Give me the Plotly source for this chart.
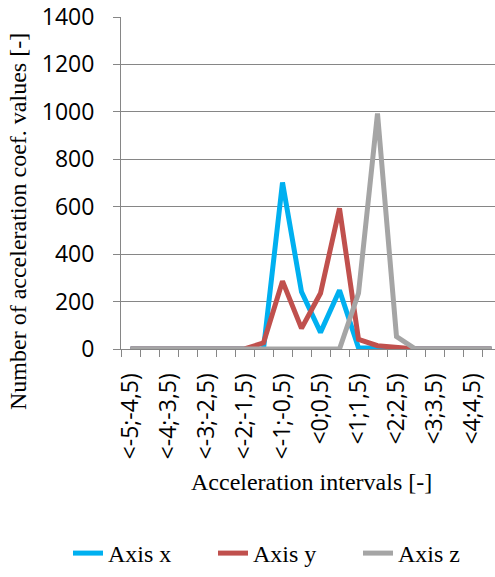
import plotly.graph_objects as go

categories = ["<-5;-4,5)", "<-4,5;-4)", "<-4;-3,5)", "<-3,5;-3)", "<-3;-2,5)", "<-2,5;-2)",
              "<-2;-1,5)", "<-1,5;-1)", "<-1;-0,5)", "<-0,5;0)", "<0;0,5)", "<0,5;1)",
              "<1;1,5)", "<1,5;2)", "<2;2,5)", "<2,5;3)", "<3;3,5)", "<3,5;4)", "<4;4,5)", "<4,5;5)"]
axis_x = [0, 0, 0, 0, 0, 0, 0, 0, 702, 241, 70, 248, 5, 2, 0, 0, 0, 0, 0, 0]
axis_y = [0, 0, 0, 0, 0, 0, 0, 26, 286, 87, 235, 593, 41, 14, 6, 0, 0, 0, 0, 0]
axis_z = [0, 0, 0, 0, 0, 0, 0, 0, 0, 0, 0, 0, 235, 993, 52, 0, 0, 0, 0, 0]
series_names = ["Axis x", "Axis y", "Axis z"]
colors = ["#00B0F0", "#C0504D", "#A5A5A5"]

idx = list(range(len(categories)))
W, H = 495, 577
L, T, B = 121, 17, 228
plot_w = W - L
plot_h = H - T - B
step = 19.0
xmax = -0.5 + plot_w / step

fig = go.Figure()
for name, vals, c in zip(series_names, [axis_x, axis_y, axis_z], colors):
    fig.add_trace(go.Scatter(x=idx, y=vals, mode="lines", name=name,
                             line=dict(color=c, width=5)))

def px_x(p):
    return (p - L) / plot_w

def px_y(p):
    return (H - B - p) / plot_h

fig.update_layout(
    width=W, height=H,
    margin=dict(l=L, r=0, t=T, b=B, autoexpand=False),
    paper_bgcolor="white", plot_bgcolor="white",
    showlegend=True,
    legend=dict(orientation="h", x=px_x(68), xanchor="left", y=px_y(576), yanchor="bottom",
                font=dict(family="Liberation Serif", size=24, color="black"),
                entrywidth=100, entrywidthmode="pixels", tracegroupgap=0),
    xaxis=dict(range=[-0.5, xmax], tickmode="array", tickvals=idx[::2], ticktext=categories[::2],
               tickangle=-90, ticks="", ticklabelstandoff=14, showgrid=False, automargin=False,
               showline=True, linecolor="#868686", linewidth=1, layer="below traces",
               zeroline=False,
               tickfont=dict(family="Open Sans", size=23, color="black"),
               minor=dict(tickmode="array", tickvals=[i - 0.5 for i in idx], ticks="outside",
                          ticklen=7, tickcolor="#868686", tickwidth=1, showgrid=False)),
    yaxis=dict(range=[0, 1400], dtick=200, tick0=0, showgrid=True, gridcolor="#868686", gridwidth=1,
               showline=True, linecolor="#868686", linewidth=1, ticks="outside", ticklen=7,
               tickcolor="#868686", zeroline=False, ticklabelstandoff=14, layer="below traces",
               automargin=False,
               tickfont=dict(family="Open Sans", size=23, color="black")),
    annotations=[
        dict(text="Number of acceleration coef. values [-]", textangle=-90, xref="paper", yref="paper",
             x=px_x(18), y=px_y(222), xanchor="center", yanchor="middle", showarrow=False,
             font=dict(family="Liberation Serif", size=24, color="black")),
        dict(text="Acceleration intervals [-]", xref="paper", yref="paper",
             x=px_x(311), y=px_y(482), xanchor="center", yanchor="middle", showarrow=False,
             font=dict(family="Liberation Serif", size=24, color="black")),
    ],
)

fig.write_html("out.html")
